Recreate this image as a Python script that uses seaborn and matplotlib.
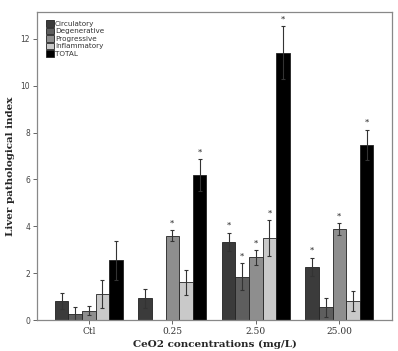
import matplotlib
matplotlib.use("Agg")
import matplotlib.pyplot as plt
import seaborn as sns
import pandas as pd
import numpy as np

# values
groups = ["Ctl", "0.25", "2.50", "25.00"]
lesions = ["Circulatory", "Degenerative", "Progressive", "Inflammatory", "TOTAL"]
circulatory = [0.82, 0.93, 3.35, 2.28]
degenerative = [0.28, 0.0, 1.85, 0.54]
progressive = [0.41, 3.60, 2.68, 3.88]
inflammatory = [1.10, 1.61, 3.49, 0.81]
total = [2.55, 6.20, 11.40, 7.48]
err_circ = [0.33, 0.41, 0.38, 0.38]
err_deg = [0.27, 0.0, 0.57, 0.39]
err_prog = [0.20, 0.23, 0.31, 0.25]
err_infl = [0.60, 0.53, 0.77, 0.44]
err_total = [0.84, 0.67, 1.13, 0.64]
# significance stars (1 = star)
star_circ = [0, 0, 1, 1]
star_deg = [0, 0, 1, 0]
star_prog = [0, 1, 1, 1]
star_infl = [0, 0, 1, 0]
star_total = [0, 1, 1, 1]

means = [circulatory, degenerative, progressive, inflammatory, total]
errs = [err_circ, err_deg, err_prog, err_infl, err_total]
stars = [star_circ, star_deg, star_prog, star_infl, star_total]
colors = ["#3b3b3b", "#5e5e5e", "#8e8e8e", "#c9c9c9", "#000000"]

rows = []
for lesion, vals in zip(lesions, means):
    for g, v in zip(groups, vals):
        rows.append({"group": g, "lesion": lesion, "value": v})
df = pd.DataFrame(rows)

sns.set_style("white")
fig = plt.figure(figsize=(3.98, 3.51), dpi=100)
ax = fig.add_axes([0.093, 0.088, 0.892, 0.878])

sns.barplot(data=df, x="group", y="value", hue="lesion", order=groups,
            hue_order=lesions, palette=colors, width=0.815, errorbar=None,
            edgecolor="#222222", linewidth=0.6, ax=ax)

# error bars and stars on each bar
for cont, e, s in zip(ax.containers, errs, stars):
    for bar, err, st in zip(cont, e, s):
        x = bar.get_x() + bar.get_width() / 2
        h = bar.get_height()
        if err > 0:
            ax.errorbar(x, h, yerr=err, fmt="none", ecolor="#333333",
                        elinewidth=0.8, capsize=1.2, capthick=0.8)
        if st:
            ax.text(x, h + err + 0.12, "*", ha="center", va="bottom",
                    fontsize=6, color="#222222", family="DejaVu Serif")

ax.set_xlim(-0.62, 3.63)
ax.set_ylim(0, 13.15)
ax.set_yticks([0, 2, 4, 6, 8, 10, 12])
ax.set_yticklabels(["0", "2", "4", "6", "8", "10", "12"], fontsize=5.5,
                   family="DejaVu Sans", color="#444444")
ax.set_xticks(range(4))
ax.set_xticklabels(groups, fontsize=6.5, family="DejaVu Serif", color="#333333")
ax.tick_params(axis="both", direction="out", length=3, width=0.7,
               color="#666666", pad=2, left=True, bottom=True)

ax.set_xlabel("CeO2 concentrations (mg/L)", fontsize=7.5, family="DejaVu Serif",
              fontweight="bold", labelpad=3)
ax.set_ylabel("Liver pathological index", fontsize=7.5, family="DejaVu Serif",
              fontweight="bold", labelpad=4)

for sp in ax.spines.values():
    sp.set_color("#888888")
    sp.set_linewidth(0.9)

leg = ax.legend(loc="upper left", bbox_to_anchor=(0.01, 0.99), fontsize=5.2,
                frameon=False, handlelength=1.1, handleheight=1.0,
                handletextpad=0.2, labelspacing=0.12, borderaxespad=0.3)
for t in leg.get_texts():
    t.set_color("#333333")

fig.savefig("out.png", dpi=100, facecolor="white")
